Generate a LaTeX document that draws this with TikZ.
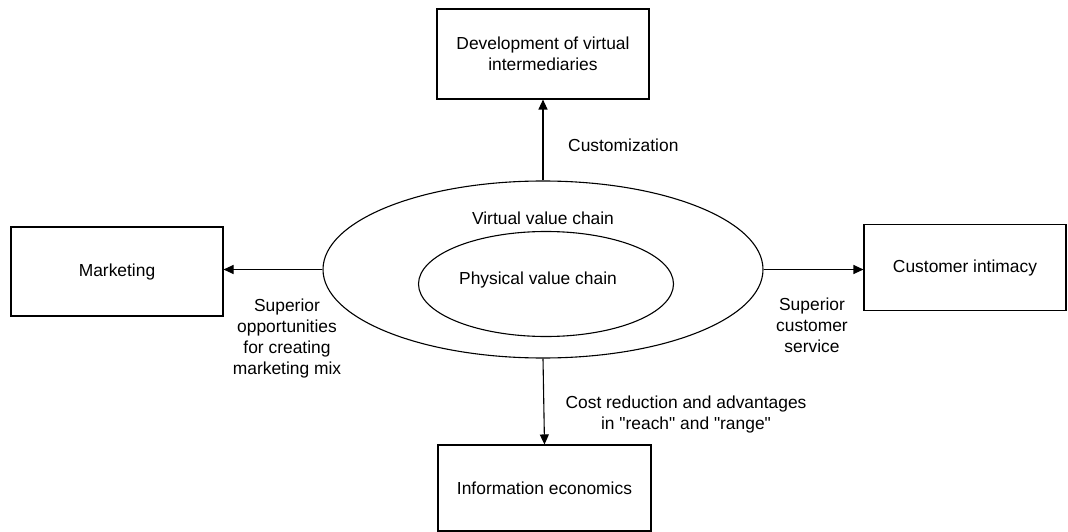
\documentclass[tikz,border=0pt]{standalone}
\usepackage{fontspec}
\setmainfont{Liberation Sans}
\usetikzlibrary{shapes.geometric,arrows.meta}

\begin{document}
\begin{tikzpicture}[x=1pt,y=1pt,
  font=\fontsize{17.4}{21}\selectfont,
  box/.style={rectangle,draw=black,line width=1.1pt,align=center,inner sep=0pt},
  oval/.style={ellipse,draw=black,line width=1.1pt,inner sep=0pt},
  txt/.style={align=center,inner sep=0pt}]

%SPACING
\useasboundingbox (0,0) rectangle (1068,-532);
%SPACING

\node[box,minimum width=212,minimum height=90](v1) at (543,-54) {Development of virtual\\intermediaries};
\node[box,minimum width=212,minimum height=89](v2) at (117,-271.5) {Marketing};
\node[box,minimum width=202,minimum height=86](v3) at (965,-267.5) {Customer intimacy};
\node[box,minimum width=213,minimum height=86](v4) at (544.5,-488) {Information economics};

\node[oval,minimum width=440,minimum height=177](v5) at (543,-269.5) {};
\node[oval,minimum width=255,minimum height=105](v6) at (546,-284) {};

\node[txt](t5) at (543,-218) {Virtual value chain};
\node[txt](t6) at (538,-280) {Physical value chain};

\node[txt,anchor=west](l1) at (568,-145) {Customization};
\node[txt](l2) at (287,-338) {Superior\\opportunities\\for creating\\marketing mix};
\node[txt](l3) at (812,-325) {Superior\\customer\\service};
\node[txt](l4) at (686,-414) {Cost reduction and advantages\\in \textquotedbl reach\textquotedbl{} and \textquotedbl range\textquotedbl};

\draw[-{Triangle[length=10pt,width=9pt]},line width=1.1pt] (v5.north) -- (v1.south);
\draw[-{Triangle[length=10pt,width=9pt]},line width=1.1pt] (v5.west) -- (v5.west -| v2.east);
\draw[-{Triangle[length=10pt,width=9pt]},line width=1.1pt] (v5.east) -- (v5.east -| v3.west);
\draw[-{Triangle[length=10pt,width=9pt]},line width=1.1pt] (v5.south) -- (v4.north);

\end{tikzpicture}
\end{document}
